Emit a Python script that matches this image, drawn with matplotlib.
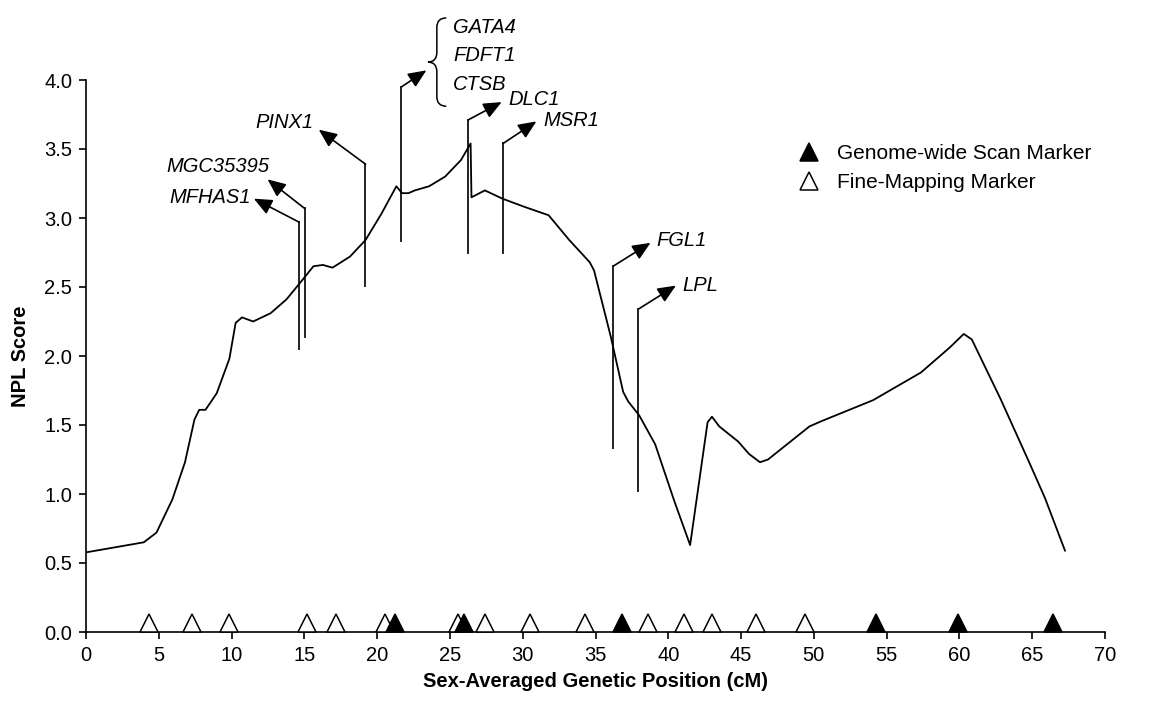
import matplotlib
matplotlib.use('Agg')
import matplotlib.pyplot as plt
import matplotlib.transforms as mtransforms
from matplotlib.path import Path
from matplotlib.patches import PathPatch
from matplotlib.lines import Line2D

# ---------------- data ----------------
pos_cm = [0, 3.97, 4.84, 5.93, 6.80, 7.45, 7.78, 8.21, 8.98, 9.85, 10.28, 10.72,
          11.48, 12.68, 13.77, 14.86, 15.62, 16.27, 16.93, 18.13, 19.2, 20.29,
          21.32, 21.71, 22.15, 22.59, 23.57, 24.67, 25.76, 26.42, 26.48, 27.4,
          28.61, 30.14, 31.23, 31.78, 33.2, 34.6, 34.9, 36.05, 36.9, 37.25, 38.0,
          39.1, 40.41, 41.5, 42.7, 43.0, 43.5, 44.8, 45.55, 46.3, 46.85, 49.7,
          50.57, 54.07, 57.35, 59.32, 60.3, 60.85, 62.82, 64.79, 65.88, 67.25]
npl_score = [0.577, 0.65, 0.72, 0.96, 1.23, 1.54, 1.61, 1.61, 1.73, 1.98, 2.24, 2.28,
             2.25, 2.31, 2.41, 2.55, 2.65, 2.66, 2.64, 2.72, 2.84, 3.03,
             3.23, 3.18, 3.18, 3.20, 3.23, 3.30, 3.42, 3.54, 3.15, 3.20,
             3.14, 3.08, 3.04, 3.02, 2.84, 2.68, 2.62, 2.14, 1.74, 1.67, 1.57,
             1.36, 0.95, 0.63, 1.52, 1.56, 1.49, 1.38, 1.29, 1.23, 1.25, 1.49,
             1.53, 1.68, 1.88, 2.06, 2.16, 2.12, 1.69, 1.23, 0.97, 0.59]

fine_mapping_cm = [4.30, 7.29, 9.82, 15.18, 17.2, 20.51, 25.57, 27.41, 30.51,
                   34.31, 38.6, 41.11, 43.03, 46.03, 49.38]
genome_scan_cm = [21.25, 25.96, 36.85, 54.3, 59.89, 66.46]

gene_labels = ['MFHAS1', 'MGC35395', 'PINX1', 'GATA4\nFDFT1\nCTSB', 'DLC1', 'MSR1', 'FGL1', 'LPL']
gene_cm = [14.64, 15.01, 19.2, 21.67, 26.24, 28.65, 36.2, 37.95]

x_ticks = list(range(0, 71, 5))
y_ticks = [0.0, 0.5, 1.0, 1.5, 2.0, 2.5, 3.0, 3.5, 4.0]
legend_labels = ['Genome-wide Scan Marker', 'Fine-Mapping Marker']

# ---------------- layout ----------------
# (line bottom, line top, arrow tip x, arrow tip y, text x, text y, ha)
ann_layout = [
    (2.05, 2.97, 11.53, 3.14, 11.30, 3.15, 'right'),
    (2.14, 3.07, 12.47, 3.28, 12.60, 3.37, 'right'),
    (2.51, 3.39, 15.99, 3.64, 15.66, 3.69, 'right'),
    (2.83, 3.95, 23.38, 4.07, None, None, None),
    (2.75, 3.71, 28.55, 3.84, 28.99, 3.86, 'left'),
    (2.75, 3.54, 30.94, 3.70, 31.40, 3.71, 'left'),
    (1.33, 2.65, 38.78, 2.82, 39.20, 2.84, 'left'),
    (1.02, 2.34, 40.52, 2.51, 40.97, 2.51, 'left'),
]
ANN_FS = 14.5

plt.rcParams['font.family'] = ['Liberation Sans', 'DejaVu Sans']

fig = plt.figure(figsize=(11.74, 7.02), dpi=100)
ax = fig.add_axes([86 / 1174, 70 / 702, 1019 / 1174, 552 / 702])

ax.plot(pos_cm, npl_score, color='black', lw=1.3, zorder=3, solid_joinstyle='round')

# markers sitting on the x axis
off = mtransforms.offset_copy(ax.transData, fig=fig, x=0, y=6.5, units='points')
ax.plot(fine_mapping_cm, [0] * len(fine_mapping_cm), ls='none', marker='^', ms=13,
        mfc='white', mec='black', mew=1.1, transform=off, clip_on=False, zorder=4)
ax.plot(genome_scan_cm, [0] * len(genome_scan_cm), ls='none', marker='^', ms=13,
        mfc='black', mec='black', mew=1.1, transform=off, clip_on=False, zorder=5)

# gene annotations
arrow_style = '-|>,head_length=0.55,head_width=0.24'
for lab, gx, (yb, yt, tx, ty, lx, ly, ha) in zip(gene_labels, gene_cm, ann_layout):
    ax.plot([gx, gx], [yb, yt], color='#222222', lw=1.4, clip_on=False, zorder=2)
    ax.annotate('', xy=(tx, ty), xytext=(gx, yt),
                arrowprops=dict(arrowstyle=arrow_style, color='black', lw=1.2,
                                mutation_scale=20, shrinkA=0, shrinkB=0),
                annotation_clip=False)
    if lx is not None:
        ax.text(lx, ly, lab, fontsize=ANN_FS, fontstyle='italic', ha=ha, va='center',
                clip_on=False)

# grouped labels with brace
group = gene_labels[3].split('\n')
for name, yy in zip(group, [4.38, 4.18, 3.97]):
    ax.text(25.23, yy, name, fontsize=ANN_FS, fontstyle='italic', ha='left', va='center',
            clip_on=False)
bx, tipx, endx = 24.10, 23.49, 24.75
verts = [(endx, 4.45), (bx, 4.45), (bx, 4.38), (bx, 4.20), (bx, 4.13), (tipx, 4.13),
         (bx, 4.13), (bx, 4.06), (bx, 3.88), (bx, 3.81), (endx, 3.81)]
codes = [Path.MOVETO, Path.CURVE3, Path.CURVE3, Path.LINETO, Path.CURVE3, Path.CURVE3,
         Path.CURVE3, Path.CURVE3, Path.LINETO, Path.CURVE3, Path.CURVE3]
ax.add_patch(PathPatch(Path(verts, codes), fill=False, lw=1.1, color='black',
                       clip_on=False))

# axes styling
ax.set_xlim(0, 70)
ax.set_ylim(0, 4)
ax.set_xticks(x_ticks)
ax.set_yticks(y_ticks)
ax.set_yticklabels([f'{v:.1f}' for v in y_ticks])
for s in ['top', 'right']:
    ax.spines[s].set_visible(False)
for s in ['left', 'bottom']:
    ax.spines[s].set_linewidth(1.2)
ax.tick_params(direction='out', length=5, width=1.2, labelsize=14.5, pad=5)
ax.set_xlabel('Sex-Averaged Genetic Position (cM)', fontsize=14.5, fontweight='bold',
              labelpad=5)
ax.set_ylabel('NPL Score', fontsize=14.5, fontweight='bold', labelpad=10)

handles = [Line2D([], [], ls='none', marker='^', ms=13, mfc='black', mec='black', mew=1.1),
           Line2D([], [], ls='none', marker='^', ms=13, mfc='white', mec='black', mew=1.1)]
ax.legend(handles, legend_labels, loc='upper left', bbox_to_anchor=(0.699, 0.884),
          frameon=False, fontsize=15, handlelength=1.0, handletextpad=0.85,
          labelspacing=0.5, borderpad=0, borderaxespad=0)

fig.savefig('out.png', dpi=100)
